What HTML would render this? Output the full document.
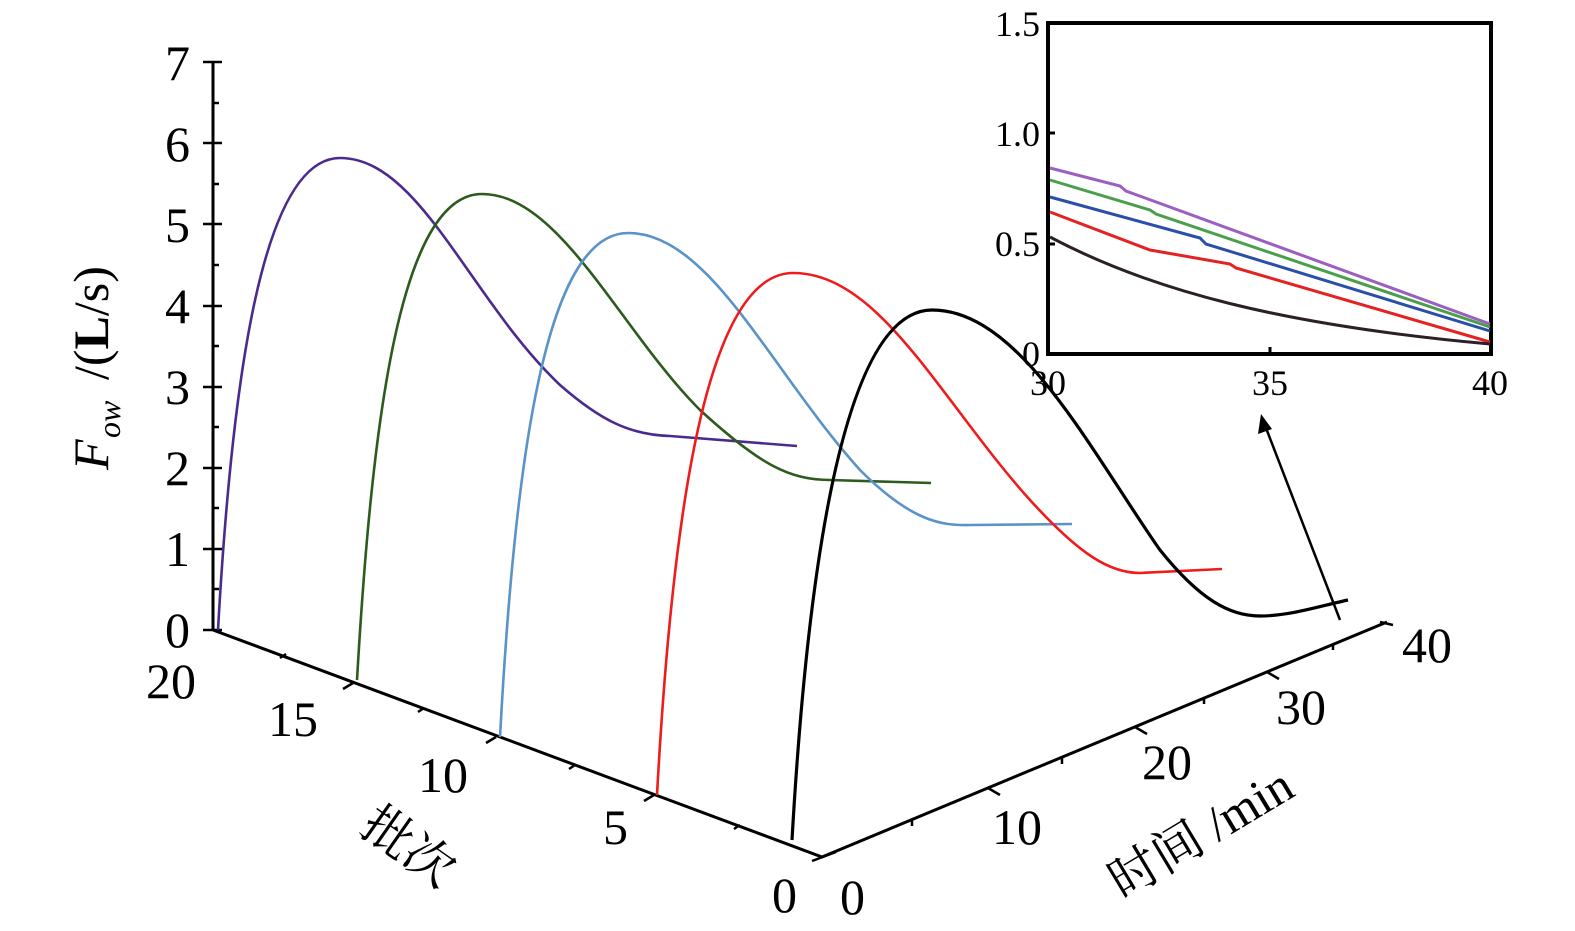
<!DOCTYPE html>
<html><head><meta charset="utf-8"><style>
html,body{margin:0;padding:0;background:#fff;}
svg{display:block;}
text{font-family:"Liberation Serif","Noto Serif CJK SC",serif;fill:#000;}
</style></head><body>
<svg width="1575" height="931" viewBox="0 0 1575 931" xmlns="http://www.w3.org/2000/svg">
<g stroke="#000" stroke-width="3" fill="none">
<line x1="213" y1="62" x2="213" y2="630"/>
<path d="M213,630 L822,857 L1387,622"/>
</g>
<g stroke="#000" stroke-width="2.5">
<line x1="203" y1="630" x2="222" y2="630"/>
<line x1="203" y1="549" x2="222" y2="549"/>
<line x1="203" y1="468" x2="222" y2="468"/>
<line x1="203" y1="387" x2="222" y2="387"/>
<line x1="203" y1="306" x2="222" y2="306"/>
<line x1="203" y1="224" x2="222" y2="224"/>
<line x1="203" y1="143" x2="222" y2="143"/>
<line x1="203" y1="62" x2="222" y2="62"/>
<line x1="213" y1="589" x2="219" y2="589"/>
<line x1="213" y1="508" x2="219" y2="508"/>
<line x1="213" y1="427" x2="219" y2="427"/>
<line x1="213" y1="346" x2="219" y2="346"/>
<line x1="213" y1="265" x2="219" y2="265"/>
<line x1="213" y1="184" x2="219" y2="184"/>
<line x1="213" y1="103" x2="219" y2="103"/>
<line x1="343" y1="689" x2="353" y2="683"/>
<line x1="486" y1="743" x2="496" y2="737"/>
<line x1="644" y1="801" x2="654" y2="795"/>
<line x1="280" y1="658" x2="286" y2="654"/>
<line x1="418" y1="712" x2="424" y2="708"/>
<line x1="569" y1="769" x2="575" y2="765"/>
<line x1="734" y1="829" x2="740" y2="825"/>
<line x1="812" y1="861" x2="836" y2="852"/>
<line x1="988" y1="788" x2="1000" y2="795"/>
<line x1="1135" y1="727" x2="1147" y2="734"/>
<line x1="1267" y1="672" x2="1279" y2="679"/>
<line x1="912" y1="820" x2="912" y2="826"/>
<line x1="1062" y1="758" x2="1062" y2="764"/>
<line x1="1204" y1="698" x2="1204" y2="704"/>
<line x1="1333" y1="644" x2="1333" y2="650"/>
<line x1="1380" y1="622" x2="1393" y2="625"/>
</g>
<g fill="none" stroke-width="2.6">
<path stroke="#4b2a8e" d="M218,630 C232,380 262,158 340,158 C420,158 470,300 560,385 C600,420 630,435 670,436 L797,446"/>
<path stroke="#2d5a1d" d="M357,680 C372,420 400,194 482,194 C560,194 620,330 700,410 C760,465 790,480 830,480 L931,483"/>
<path stroke="#5a93c7" d="M500,737 C515,460 545,233 628,233 C710,233 770,370 860,470 C910,520 940,526 970,525 L1072,524"/>
<path stroke="#ee1c1c" d="M657,795 C672,520 705,273 793,273 C880,273 940,400 1030,500 C1080,555 1110,573 1140,573 L1222,569"/>
<path stroke="#000" stroke-width="3.2" d="M792,840 C808,560 845,310 932,310 C1020,310 1090,450 1160,550 C1200,600 1230,616 1260,616 C1290,616 1320,606 1348,600"/>
</g>
<line x1="1340" y1="620" x2="1266" y2="428" stroke="#000" stroke-width="2.5"/>
<polygon points="1261,414 1258,434 1272,429" fill="#000"/>
<g font-size="50" text-anchor="end">
<text x="190" y="647">0</text><text x="190" y="566">1</text><text x="190" y="485">2</text>
<text x="190" y="404">3</text><text x="190" y="323">4</text><text x="190" y="242">5</text>
<text x="190" y="161">6</text><text x="190" y="80">7</text>
</g>
<g font-size="50">
<text x="146" y="698">20</text><text x="268" y="736">15</text><text x="418" y="792">10</text>
<text x="603" y="844">5</text><text x="772" y="912">0</text>
<text x="840" y="914">0</text><text x="992" y="844">10</text><text x="1142" y="779">20</text>
<text x="1276" y="724">30</text><text x="1402" y="662">40</text>
</g>
<text font-size="50" transform="translate(358,832) rotate(35)">批次</text>
<text font-size="50" transform="translate(1122,900) rotate(-31)">时间 /min</text>
<g transform="translate(108,470) rotate(-90)" font-size="50">
<text x="0" y="0" font-style="italic">F</text><text x="32" y="12" font-size="32" font-style="italic">ow</text>
<text x="90" y="0">/(<tspan font-weight="bold">L</tspan>/s)</text>
</g>
<rect x="1048" y="23" width="443" height="331" fill="none" stroke="#000" stroke-width="4"/>
<g fill="none" stroke-width="3">
<path stroke="#9b5fc0" d="M1050,168 L1120,186 L1126,191 L1490,324"/>
<path stroke="#4aa04a" d="M1050,180 L1150,210 L1156,214 L1490,327"/>
<path stroke="#2a4fa8" d="M1050,197 L1200,238 L1206,244 L1490,331"/>
<path stroke="#e52222" d="M1050,212 L1150,250 L1230,264 L1236,268 L1490,342"/>
<path stroke="#2a2025" d="M1050,237 C1150,290 1280,325 1490,344"/>
</g>
<g stroke="#000" stroke-width="3">
<line x1="1048" y1="133" x2="1055" y2="133"/><line x1="1048" y1="244" x2="1055" y2="244"/>
<line x1="1270" y1="354" x2="1270" y2="347"/>
</g>
<g font-size="36" text-anchor="end">
<text x="1040" y="36">1.5</text><text x="1040" y="146">1.0</text>
<text x="1040" y="256">0.5</text><text x="1040" y="366">0</text>
</g>
<g font-size="36" text-anchor="middle">
<text x="1048" y="395">30</text><text x="1270" y="395">35</text><text x="1490" y="395">40</text>
</g>
</svg>
</body></html>
